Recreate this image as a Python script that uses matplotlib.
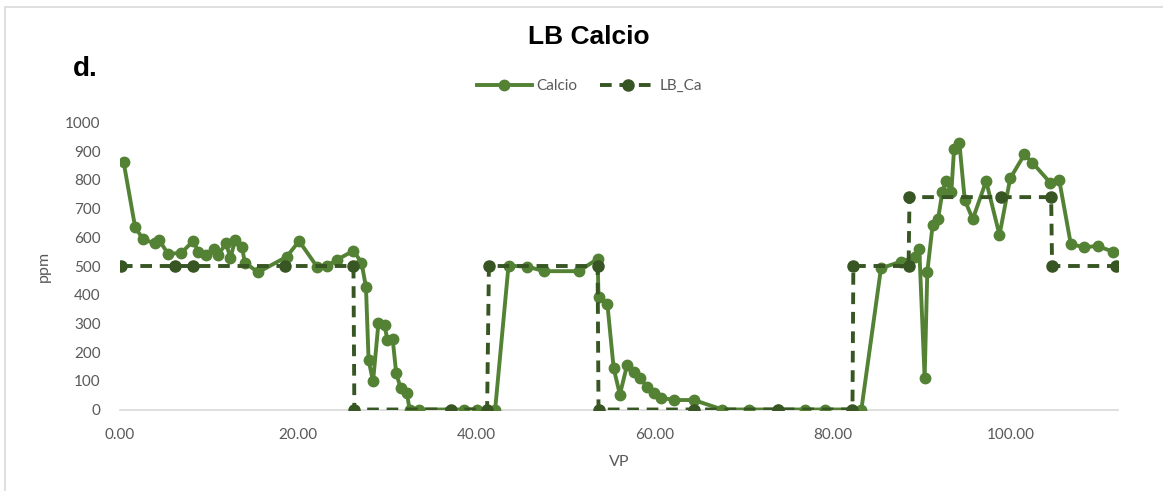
import matplotlib
matplotlib.use("Agg")
import matplotlib.pyplot as plt
from matplotlib.patches import Rectangle

# Calcio measurements (ppm) along VP
vp_calcio = [0.4, 1.7, 2.6, 3.9, 4.4, 5.4, 6.9, 8.2, 8.8, 9.7, 10.5, 11.0, 11.9, 12.4,
             12.9, 13.7, 14.0, 15.5, 18.7, 20.1, 22.1, 23.2, 24.3, 26.2, 27.1, 27.6,
             27.9, 28.4, 29.0, 29.7, 30.0, 30.6, 31.0, 31.5, 32.2, 32.5, 33.5, 38.6,
             40.1, 42.1, 43.6, 45.7, 47.6, 51.5, 53.6, 53.7, 54.7, 55.4, 56.1, 56.9,
             57.7, 58.4, 59.1, 59.9, 60.7, 62.2, 64.4, 67.6, 70.6, 73.8, 76.9, 79.1,
             83.2, 85.4, 87.6, 89.2, 89.7, 90.3, 90.6, 91.2, 91.8, 92.3, 92.7, 93.3,
             93.6, 94.2, 94.8, 95.7, 97.2, 98.7, 99.9, 101.5, 102.4, 104.4, 105.4,
             106.7, 108.2, 109.7, 111.4]
calcio = [863, 635, 593, 579, 590, 542, 546, 587, 550, 538, 558, 538, 579, 527,
          590, 567, 512, 478, 532, 587, 498, 500, 521, 553, 512, 428,
          171, 98, 300, 294, 242, 245, 126, 74, 56, 0, 0, 0,
          0, 0, 501, 498, 482, 482, 525, 393, 366, 144, 52, 154,
          132, 109, 80, 56, 41, 33, 33, 0, 0, 0, 0, 0,
          0, 492, 515, 530, 558, 109, 480, 643, 663, 759, 797, 759,
          907, 928, 730, 663, 796, 608, 805, 889, 860, 790, 800,
          577, 565, 570, 550]

# LB_Ca baseline (step series)
vp_lb = [0.1, 6.2, 8.2, 18.5, 26.2, 26.3, 37.1, 41.2, 41.4, 53.6, 53.7, 64.4,
         73.8, 82.2, 82.3, 88.5, 88.6, 98.9, 104.5, 104.6, 111.8]
lb_ca = [500, 500, 500, 500, 500, 0, 0, 0, 500, 500, 0, 0,
         0, 0, 500, 500, 740, 740, 740, 500, 500]

x_ticks = [0, 20, 40, 60, 80, 100]
y_ticks = list(range(0, 1001, 100))

GREEN = "#548235"
DARK = "#375623"
GREY = "#595959"

plt.rcParams["font.family"] = ["Lato", "DejaVu Sans"]

fig = plt.figure(figsize=(11.63, 4.91), dpi=100)
# chart frame (only its top and left edges fall inside the canvas)
fig.patches.append(Rectangle((5 / 1163, -10 / 491), 1200 / 1163, 494 / 491,
                             transform=fig.transFigure, fill=False,
                             edgecolor="#d9d9d9", lw=1.2))

ax = fig.add_axes([120 / 1163, 81.5 / 491, 998 / 1163, 287 / 491])
ax.plot(vp_calcio, calcio, color=GREEN, lw=2.8, marker="o", ms=7.5,
        label="Calcio", zorder=3)
ax.plot(vp_lb, lb_ca, color=DARK, lw=2.8, ls=(0, (3, 2)), marker="o", ms=8,
        label="LB_Ca", zorder=4)

ax.set_xlim(0, 112)
ax.set_ylim(0, 1000)
ax.set_xticks(x_ticks)
ax.set_xticklabels([f"{t:.2f}" for t in x_ticks])
ax.set_yticks(y_ticks)
ax.tick_params(length=0, labelsize=11, colors=GREY)
ax.tick_params(axis="x", pad=13)
ax.tick_params(axis="y", pad=14)
for side in ["top", "right", "left"]:
    ax.spines[side].set_visible(False)
ax.spines["bottom"].set_color("#d9d9d9")
ax.spines["bottom"].set_linewidth(1.2)
ax.set_xlabel("VP", fontsize=11.5, color=GREY, labelpad=10)
ax.set_ylabel("ppm", fontsize=11.5, color=GREY, labelpad=10)

fig.text(0.506, 0.925, "LB Calcio", ha="center", va="center", fontsize=19,
         fontweight="bold", family="Liberation Sans")
fig.text(73 / 1163, 0.86, "d.", ha="left", va="center", fontsize=20,
         fontweight="bold", family="Liberation Sans")

fig.legend(loc="center", bbox_to_anchor=(0.507, 0.825), ncol=2, frameon=False,
           fontsize=11, labelcolor=GREY, handlelength=3.6, numpoints=1,
           columnspacing=1.5, handletextpad=0.3)

fig.savefig("out.png", dpi=100)
